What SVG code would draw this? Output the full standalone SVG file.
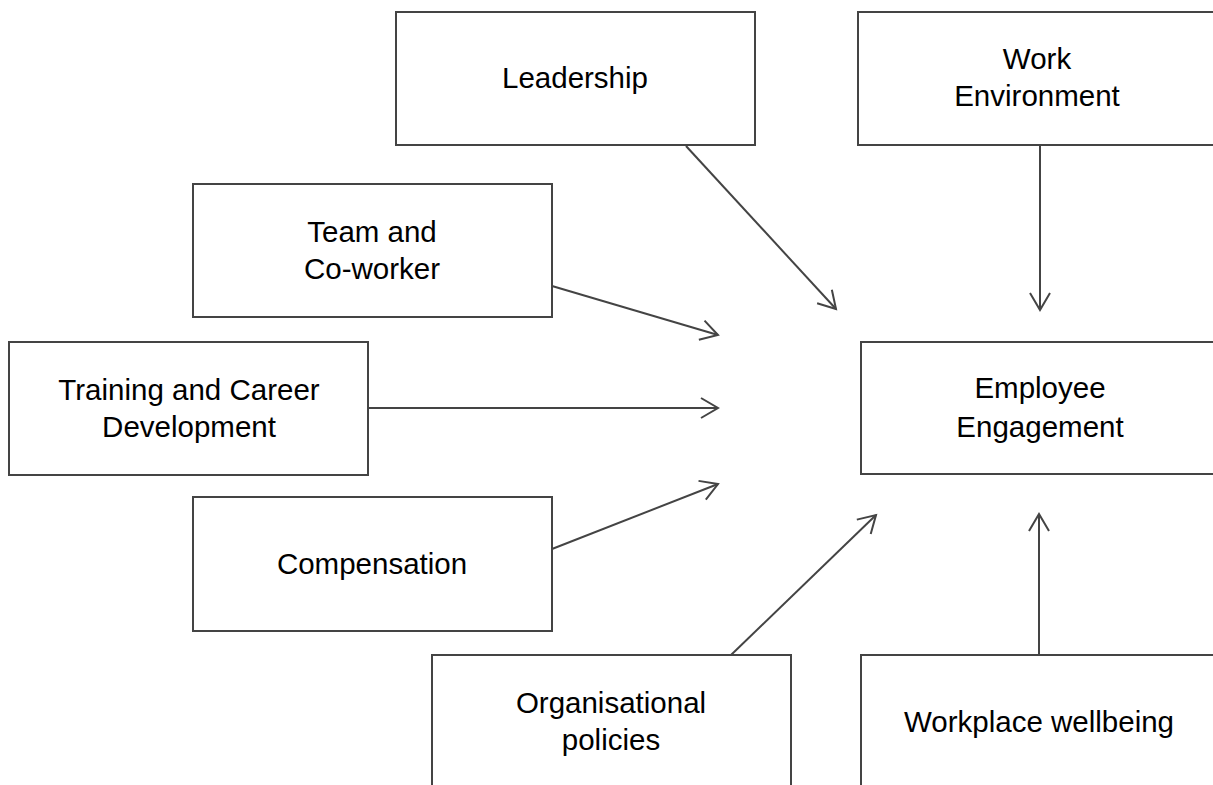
<svg xmlns="http://www.w3.org/2000/svg" width="1213" height="785" viewBox="0 0 1213 785">
<defs>
<style>
.box{fill:#fff;stroke:#444;stroke-width:2}
.lbl{font-family:"Liberation Sans",Arial,sans-serif;font-size:29.5px;fill:#000;text-anchor:middle}
.con{stroke:#444;stroke-width:2;fill:none;marker-end:url(#arr)}
</style>
<marker id="arr" markerUnits="userSpaceOnUse" markerWidth="40" markerHeight="40" viewBox="-20 -20 40 40" refX="0" refY="0" orient="auto" overflow="visible">
<path d="M-17,-10 L0,0 L-17,10" fill="none" stroke="#444" stroke-width="2"/>
</marker>
</defs>
<rect width="1213" height="785" fill="#fff"/>
<g id="connectors">
<line class="con" x1="686" y1="146" x2="836" y2="309"/>
<line class="con" x1="1040" y1="146" x2="1040" y2="310"/>
<line class="con" x1="552" y1="286" x2="718" y2="335"/>
<line class="con" x1="368" y1="408" x2="718" y2="408"/>
<line class="con" x1="552" y1="549" x2="718" y2="484"/>
<line class="con" x1="731" y1="655" x2="876" y2="515"/>
<line class="con" x1="1039" y1="655" x2="1039" y2="514"/>
</g>
<g id="leadership">
<rect class="box" x="396" y="12" width="359" height="133"/>
<text class="lbl" x="575" y="88">Leadership</text>
</g>
<g id="work-environment">
<rect class="box" x="858" y="12" width="359" height="133"/>
<text class="lbl" x="1037" y="69">Work</text>
<text class="lbl" x="1037" y="106">Environment</text>
</g>
<g id="team">
<rect class="box" x="193" y="184" width="359" height="133"/>
<text class="lbl" x="372" y="242">Team and</text>
<text class="lbl" x="372" y="279">Co-worker</text>
</g>
<g id="training">
<rect class="box" x="9" y="342" width="359" height="133"/>
<text class="lbl" x="189" y="400">Training and Career</text>
<text class="lbl" x="189" y="437">Development</text>
</g>
<g id="employee-engagement">
<rect class="box" x="861" y="342" width="359" height="132"/>
<text class="lbl" x="1040" y="398">Employee</text>
<text class="lbl" x="1040" y="437">Engagement</text>
</g>
<g id="compensation">
<rect class="box" x="193" y="497" width="359" height="134"/>
<text class="lbl" x="372" y="574">Compensation</text>
</g>
<g id="organisational-policies">
<rect class="box" x="432" y="655" width="359" height="140"/>
<text class="lbl" x="611" y="713">Organisational</text>
<text class="lbl" x="611" y="750">policies</text>
</g>
<g id="workplace-wellbeing">
<rect class="box" x="861" y="655" width="359" height="140"/>
<text class="lbl" x="1039" y="732">Workplace wellbeing</text>
</g>
</svg>
